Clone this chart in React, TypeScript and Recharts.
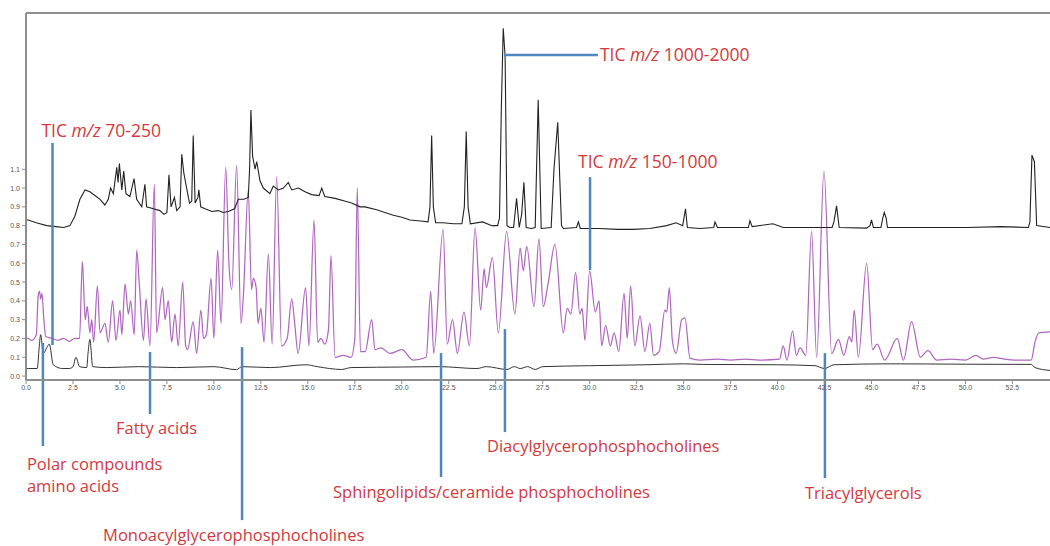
import { LineChart, Line, XAxis, YAxis, ReferenceLine } from 'recharts'

// retention time (min), relative intensity
const ticHigh: [number, number][] = [
  [0, 0.83], [0.12, 0.83], [0.55, 0.815], [1.1, 0.8], [1.6, 0.795], [2.0, 0.79], [2.34, 0.8], [2.6, 0.85],
  [2.87, 0.94], [3.14, 0.99], [3.4, 0.98], [3.67, 0.96], [3.94, 0.94], [4.2, 0.91], [4.38, 0.94], [4.5, 1.0],
  [4.65, 0.97], [4.83, 1.11], [4.9, 1.03], [4.97, 1.13], [5.1, 0.99], [5.2, 1.09], [5.32, 0.97], [5.53, 0.955],
  [5.75, 1.05], [5.89, 0.94], [6.16, 0.9], [6.33, 1.02], [6.42, 0.9], [6.78, 0.89], [7.13, 0.88], [7.34, 0.86],
  [7.5, 0.87], [7.61, 1.07], [7.72, 0.9], [7.9, 0.95], [8.02, 0.88], [8.2, 0.9], [8.29, 1.18], [8.4, 1.08],
  [8.55, 1.0], [8.7, 0.92], [8.82, 0.93], [8.9, 1.28], [9.0, 0.92], [9.15, 0.95], [9.2, 0.99], [9.3, 0.9],
  [9.53, 0.89], [9.9, 0.875], [10.23, 0.88], [10.5, 0.87], [10.77, 0.875], [11.1, 0.89], [11.3, 0.94],
  [11.6, 0.94], [11.83, 0.95], [11.9, 1.1], [11.97, 1.415], [12.06, 1.17], [12.19, 1.1], [12.28, 1.14],
  [12.45, 1.04], [12.63, 1.0], [12.98, 0.97], [13.16, 1.01], [13.43, 0.99], [13.7, 1.0], [13.96, 1.03],
  [14.14, 0.99], [14.5, 1.0], [14.85, 0.98], [15.2, 0.965], [15.6, 0.96], [15.74, 1.0], [15.9, 0.955],
  [16.45, 0.945], [17.0, 0.93], [17.33, 0.92], [17.78, 0.9], [18.04, 0.9], [18.66, 0.885], [19.1, 0.87],
  [19.55, 0.855], [20.0, 0.845], [20.44, 0.83], [21.0, 0.825], [21.4, 0.82], [21.5, 0.9], [21.59, 1.28],
  [21.68, 0.9], [21.8, 0.815], [22.2, 0.815], [22.74, 0.81], [23.2, 0.81], [23.33, 0.9], [23.43, 1.3],
  [23.53, 0.9], [23.65, 0.81], [24.3, 0.82], [24.8, 0.8], [25.1, 0.8], [25.2, 0.84], [25.3, 1.43],
  [25.4, 1.85], [25.5, 1.7], [25.6, 0.8], [25.75, 0.79], [25.95, 0.79], [26.11, 0.945], [26.25, 0.79],
  [26.38, 0.86], [26.5, 1.03], [26.62, 0.79], [26.9, 0.785], [27.1, 0.79], [27.26, 1.47], [27.42, 0.785],
  [27.95, 0.79], [28.1, 1.1], [28.3, 1.35], [28.5, 0.8], [28.6, 0.785], [29.3, 0.79], [29.4, 0.82],
  [29.5, 0.785], [30.5, 0.785], [31.5, 0.78], [32.3, 0.78], [33.2, 0.785], [34.1, 0.8], [34.6, 0.815],
  [34.95, 0.8], [35.1, 0.89], [35.2, 0.79], [35.87, 0.785], [36.6, 0.79], [36.67, 0.82], [36.8, 0.79],
  [37.7, 0.79], [38.45, 0.79], [38.53, 0.826], [38.65, 0.795], [39.75, 0.81], [40.3, 0.79], [42.1, 0.79],
  [42.9, 0.79], [43.0, 0.82], [43.14, 0.905], [43.28, 0.79], [44.74, 0.787], [44.92, 0.8], [45.0, 0.83],
  [45.1, 0.79], [45.5, 0.79], [45.6, 0.84], [45.68, 0.87], [45.78, 0.84], [45.85, 0.79], [48.3, 0.79],
  [50.1, 0.79], [51.9, 0.795], [53.35, 0.79], [53.43, 0.82], [53.54, 1.175], [53.67, 1.14], [53.79, 0.8],
  [54.5, 0.79],
]

const ticMid: [number, number][] = [
  [0, 0.2], [0.1, 0.2], [0.3, 0.19], [0.55, 0.22], [0.65, 0.43], [0.72, 0.45], [0.78, 0.41], [0.85, 0.44],
  [0.95, 0.3], [1.05, 0.21], [1.4, 0.2], [1.7, 0.19], [2.0, 0.2], [2.3, 0.185], [2.6, 0.2], [2.85, 0.2],
  [3.0, 0.61], [3.15, 0.3], [3.26, 0.37], [3.4, 0.23], [3.5, 0.3], [3.6, 0.18], [3.8, 0.48], [3.94, 0.23],
  [4.2, 0.28], [4.38, 0.18], [4.61, 0.4], [4.79, 0.19], [5.0, 0.35], [5.1, 0.22], [5.27, 0.49], [5.45, 0.33],
  [5.57, 0.4], [5.76, 0.22], [5.89, 0.67], [6.03, 0.49], [6.25, 0.19], [6.39, 0.41], [6.6, 0.16],
  [6.83, 1.02], [6.95, 0.23], [7.27, 0.47], [7.4, 0.3], [7.57, 0.4], [7.75, 0.18], [7.93, 0.33], [8.1, 0.16],
  [8.34, 0.5], [8.5, 0.16], [8.6, 0.14], [8.9, 0.29], [9.08, 0.12], [9.31, 0.35], [9.45, 0.2], [9.6, 0.22],
  [9.85, 0.52], [10.0, 0.2], [10.2, 0.67], [10.38, 0.28], [10.63, 1.11], [10.8, 0.6], [10.95, 0.46],
  [11.21, 1.12], [11.44, 0.28], [11.57, 0.43], [11.83, 0.99], [12.0, 0.46], [12.1, 0.52], [12.25, 0.47],
  [12.35, 0.28], [12.5, 0.36], [12.67, 0.18], [12.9, 0.65], [13.1, 0.17], [13.34, 1.06], [13.6, 0.16],
  [13.9, 0.2], [14.14, 0.41], [14.3, 0.28], [14.48, 0.12], [14.88, 0.47], [15.06, 0.16], [15.33, 0.83],
  [15.52, 0.18], [15.7, 0.2], [15.9, 0.17], [16.1, 0.25], [16.23, 0.64], [16.45, 0.1], [16.9, 0.11],
  [17.3, 0.1], [17.5, 0.2], [17.63, 1.0], [17.8, 0.13], [18.05, 0.13], [18.4, 0.3], [18.57, 0.14], [18.9, 0.15],
  [19.37, 0.12], [20.0, 0.14], [20.6, 0.085], [21.3, 0.1], [21.54, 0.45], [21.7, 0.12], [22.2, 0.78],
  [22.42, 0.17], [22.7, 0.3], [22.96, 0.12], [23.31, 0.34], [23.6, 0.16], [23.9, 0.79], [24.2, 0.35],
  [24.38, 0.57], [24.5, 0.47], [24.82, 0.63], [25.14, 0.23], [25.58, 0.77], [26.02, 0.33], [26.3, 0.68],
  [26.47, 0.56], [26.65, 0.69], [27.04, 0.37], [27.3, 0.73], [27.53, 0.37], [27.8, 0.5], [28.15, 0.7],
  [28.6, 0.23], [28.8, 0.36], [29.0, 0.33], [29.25, 0.55], [29.48, 0.33], [29.6, 0.36], [29.75, 0.19],
  [30.0, 0.56], [30.3, 0.34], [30.5, 0.4], [30.64, 0.16], [30.85, 0.27], [31.1, 0.16], [31.3, 0.23],
  [31.55, 0.13], [31.83, 0.44], [32.0, 0.2], [32.18, 0.48], [32.4, 0.16], [32.68, 0.32], [32.94, 0.13],
  [33.2, 0.28], [33.4, 0.11], [33.7, 0.13], [34.0, 0.35], [34.1, 0.34], [34.24, 0.47], [34.4, 0.19],
  [34.6, 0.12], [34.9, 0.3], [35.07, 0.31], [35.34, 0.095], [35.87, 0.085], [36.8, 0.09], [37.5, 0.085],
  [38.3, 0.09], [39.0, 0.085], [40.1, 0.09], [40.3, 0.16], [40.5, 0.085], [40.8, 0.24], [41.0, 0.11],
  [41.2, 0.15], [41.5, 0.11], [41.81, 0.77], [42.08, 0.1], [42.47, 1.09], [42.88, 0.12], [43.24, 0.195],
  [43.53, 0.11], [43.82, 0.21], [43.95, 0.18], [44.08, 0.35], [44.3, 0.1], [44.74, 0.6], [45.06, 0.14],
  [45.3, 0.17], [45.7, 0.085], [46.37, 0.2], [46.7, 0.085], [47.13, 0.29], [47.6, 0.1], [48.0, 0.135],
  [48.47, 0.085], [49.2, 0.09], [50.0, 0.085], [50.56, 0.11], [50.95, 0.09], [51.5, 0.1], [52.1, 0.09],
  [52.7, 0.085], [53.5, 0.085], [53.7, 0.18], [53.9, 0.23], [54.5, 0.235],
]

const ticLow: [number, number][] = [
  [0, 0.04], [0.12, 0.04], [0.6, 0.04], [0.7, 0.15], [0.78, 0.22], [0.92, 0.12], [1.1, 0.15], [1.24, 0.17],
  [1.45, 0.06], [1.95, 0.04], [2.3, 0.04], [2.5, 0.05], [2.66, 0.1], [2.85, 0.05], [3.23, 0.045],
  [3.3, 0.12], [3.4, 0.195], [3.55, 0.05], [4.3, 0.045], [6.0, 0.05], [8.0, 0.045], [10.0, 0.05],
  [11.2, 0.034], [11.5, 0.05], [13.0, 0.045], [14.9, 0.06], [15.5, 0.05], [16.8, 0.035], [17.3, 0.045],
  [20.0, 0.048], [22.0, 0.05], [24.0, 0.04], [24.5, 0.05], [25.6, 0.035], [26.0, 0.05], [26.3, 0.04],
  [26.7, 0.05], [27.1, 0.035], [27.5, 0.05], [30.0, 0.055], [33.0, 0.06], [35.0, 0.065], [36.0, 0.062],
  [40.0, 0.06], [42.0, 0.055], [42.5, 0.04], [43.0, 0.06], [46.0, 0.065], [50.0, 0.063], [53.5, 0.062],
  [53.7, 0.045], [54.5, 0.03],
]

const timeTicks = [0, 2.5, 5, 7.5, 10, 12.5, 15, 17.5, 20, 22.5, 25, 27.5, 30, 32.5, 35, 37.5, 40, 42.5, 45, 47.5, 50, 52.5]
const intensityTicks = [0, 0.1, 0.2, 0.3, 0.4, 0.5, 0.6, 0.7, 0.8, 0.9, 1.0, 1.1]

const RED = '#d3393e'
const BLUE = '#4f86c2'
const AXIS = '#8e8e8e'
const FONT = '"Open Sans", "Noto Sans", sans-serif'
const Y_TOP = 1.931

const rows = (pts: [number, number][]) => pts.map(([t, v]) => ({ t, v }))

function Callout({ viewBox, dx, dy, end, size = 16.5, children }: any) {
  const { x = 0, y = 0, width = 0, height = 0 } = viewBox || {}
  const ax = end === 'right' ? x + width : x
  const ay = end === 'bottom' ? y + height : y
  return (
    <text x={ax + dx} y={ay + dy} fill={RED} fontFamily={FONT} fontSize={size}>
      {children}
    </text>
  )
}

function TicLabel({ range }: { range: string }) {
  return (
    <>
      <tspan>TIC </tspan>
      <tspan fontStyle="italic">m/z</tspan>
      <tspan> {range}</tspan>
    </>
  )
}

const seg = (x1: number, y1: number, x2: number, y2: number) => [
  { x: x1, y: y1 },
  { x: x2, y: y2 },
]

export default function App() {
  return (
    <div style={{ position: 'absolute', left: 0, top: 0, width: 1050, height: 546, background: '#fff' }}>
      <LineChart width={1050} height={546} margin={{ top: 13, right: 0, bottom: 146, left: 0 }}>
        <XAxis
          dataKey="t"
          type="number"
          domain={[0, 54.5]}
          allowDataOverflow
          ticks={timeTicks}
          tickFormatter={v => v.toFixed(1)}
          height={20}
          tickSize={4}
          tickMargin={1}
          tick={{ fill: '#555', fontSize: 7, fontFamily: 'Liberation Sans, Arial, sans-serif' }}
          tickLine={{ stroke: AXIS }}
          axisLine={{ stroke: AXIS, strokeWidth: 2 }}
        />
        <YAxis
          type="number"
          domain={[-0.021, Y_TOP]}
          allowDataOverflow
          ticks={intensityTicks}
          tickFormatter={v => v.toFixed(1)}
          width={26}
          tickSize={4}
          tickMargin={2}
          tick={{ fill: '#555', fontSize: 7, fontFamily: 'Liberation Sans, Arial, sans-serif' }}
          tickLine={{ stroke: AXIS }}
          axisLine={{ stroke: AXIS, strokeWidth: 2 }}
        />

        {/* frame top */}
        <ReferenceLine y={Y_TOP} stroke={AXIS} strokeWidth={2} ifOverflow="visible" />

        <Line data={rows(ticMid)} dataKey="v" type="monotone" stroke="#b068bf" strokeWidth={1.25} dot={false} isAnimationActive={false} />
        <Line data={rows(ticHigh)} dataKey="v" type="linear" stroke="#222" strokeWidth={1.1} dot={false} isAnimationActive={false} />
        <Line data={rows(ticLow)} dataKey="v" type="monotone" stroke="#333" strokeWidth={1} dot={false} isAnimationActive={false} />

        {/* trace callouts */}
        <ReferenceLine
          segment={seg(1.41, 1.24, 1.41, 0.165)}
          stroke={BLUE}
          strokeWidth={2.5}
          ifOverflow="visible"
          label={(p: any) => (
            <Callout viewBox={p.viewBox} end="top" dx={-11} dy={-6} size={17.5}>
              <TicLabel range="70-250" />
            </Callout>
          )}
        />
        <ReferenceLine
          segment={seg(25.44, 1.707, 30.44, 1.707)}
          stroke={BLUE}
          strokeWidth={2.5}
          ifOverflow="visible"
          label={(p: any) => (
            <Callout viewBox={p.viewBox} end="right" dx={2} dy={6} size={17.5}>
              <TicLabel range="1000-2000" />
            </Callout>
          )}
        />
        <ReferenceLine
          segment={seg(30.02, 1.058, 30.02, 0.564)}
          stroke={BLUE}
          strokeWidth={2.5}
          ifOverflow="visible"
          label={(p: any) => (
            <Callout viewBox={p.viewBox} end="top" dx={-12} dy={-9} size={17.5}>
              <TicLabel range="150-1000" />
            </Callout>
          )}
        />

        {/* compound class callouts */}
        <ReferenceLine
          segment={seg(0.9, 0.176, 0.9, -0.372)}
          stroke={BLUE}
          strokeWidth={2.5}
          ifOverflow="visible"
          label={(p: any) => (
            <Callout viewBox={p.viewBox} end="bottom" dx={-16} dy={24}>
              <tspan>Polar compounds</tspan>
              <tspan x={(p.viewBox?.x ?? 0) - 16} dy={22}>amino acids</tspan>
            </Callout>
          )}
        />
        <ReferenceLine
          segment={seg(6.6, 0.128, 6.6, -0.202)}
          stroke={BLUE}
          strokeWidth={2.5}
          ifOverflow="visible"
          label={(p: any) => (
            <Callout viewBox={p.viewBox} end="bottom" dx={-34} dy={20}>Fatty acids</Callout>
          )}
        />
        <ReferenceLine
          segment={seg(11.5, 0.154, 11.5, -0.766)}
          stroke={BLUE}
          strokeWidth={2.5}
          ifOverflow="visible"
          label={(p: any) => (
            <Callout viewBox={p.viewBox} end="bottom" dx={-139} dy={21}>Monoacylglycerophosphocholines</Callout>
          )}
        />
        <ReferenceLine
          segment={seg(22.09, 0.122, 22.09, -0.537)}
          stroke={BLUE}
          strokeWidth={2.5}
          ifOverflow="visible"
          label={(p: any) => (
            <Callout viewBox={p.viewBox} end="bottom" dx={-108} dy={21}>Sphingolipids/ceramide phosphocholines</Callout>
          )}
        />
        <ReferenceLine
          segment={seg(25.49, 0.25, 25.49, -0.298)}
          stroke={BLUE}
          strokeWidth={2.5}
          ifOverflow="visible"
          label={(p: any) => (
            <Callout viewBox={p.viewBox} end="bottom" dx={-18} dy={20}>Diacylglycerophosphocholines</Callout>
          )}
        />
        <ReferenceLine
          segment={seg(42.52, 0.122, 42.52, -0.543)}
          stroke={BLUE}
          strokeWidth={2.5}
          ifOverflow="visible"
          label={(p: any) => (
            <Callout viewBox={p.viewBox} end="bottom" dx={-20} dy={21}>Triacylglycerols</Callout>
          )}
        />
      </LineChart>
    </div>
  )
}
